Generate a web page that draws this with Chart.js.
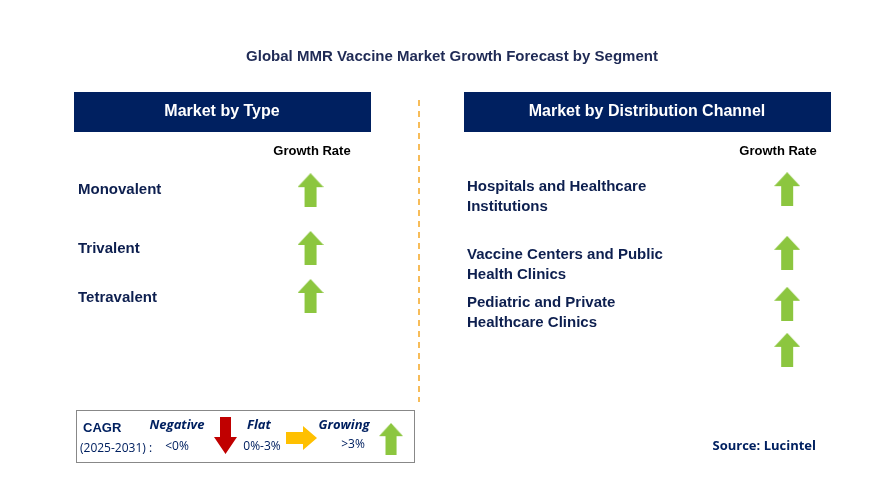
<!DOCTYPE html>
<html><head><meta charset="utf-8">
<script src="https://cdn.jsdelivr.net/npm/chart.js@4"></script>
<style>html,body{margin:0;padding:0;background:#fff}#wrap{width:895px;height:490px}</style>
</head><body><div id="wrap"><canvas id="chart" width="895" height="490"></canvas></div>
<script>
const title = 'Global MMR Vaccine Market Growth Forecast by Segment'
const typeLabels = ['Monovalent', 'Trivalent', 'Tetravalent']
const typeGrowth = ['Growing', 'Growing', 'Growing']
const channelLabels = [['Hospitals and Healthcare', 'Institutions'], ['Vaccine Centers and Public', 'Health Clinics'], ['Pediatric and Private', 'Healthcare Clinics'], ['']]
const channelGrowth = ['Growing', 'Growing', 'Growing', 'Growing']
const typeRows = [189, 248, 297]
const channelRows = [188, 253, 305, 352]

const NAVY = '#002060'
const GREEN = '#8cc63f'

function arrowImg(dir, color) {
  const c = document.createElement('canvas')
  c.width = 26; c.height = 34
  const g = c.getContext('2d')
  g.fillStyle = color
  g.beginPath()
  if (dir === 'up') {
    g.moveTo(13, 0); g.lineTo(26, 14); g.lineTo(19, 14); g.lineTo(19, 34)
    g.lineTo(7, 34); g.lineTo(7, 14); g.lineTo(0, 14)
  }
  g.closePath(); g.fill()
  return c
}
const up = arrowImg('up', GREEN)

const decor = {
  id: 'decor',
  afterDraw(chart) {
    const ctx = chart.ctx
    ctx.save()
    ctx.textBaseline = 'middle'
    ctx.fillStyle = '#1f2a55'
    ctx.font = 'bold 15px Arial, "Liberation Sans"'
    ctx.textAlign = 'center'
    ctx.fillText(title, 452, 57)

    ctx.fillStyle = NAVY
    ctx.fillRect(74, 92, 297, 40)
    ctx.fillRect(464, 92, 367, 40)
    ctx.fillStyle = '#fff'
    ctx.font = 'bold 16px Arial, "Liberation Sans"'
    ctx.fillText('Market by Type', 222, 112)
    ctx.fillText('Market by Distribution Channel', 647, 112)

    ctx.fillStyle = '#000'
    ctx.font = 'bold 13px Arial, "Liberation Sans"'
    ctx.fillText('Growth Rate', 312, 151)
    ctx.fillText('Growth Rate', 778, 151)

    ctx.strokeStyle = '#f5a623'
    ctx.lineWidth = 1.5
    ctx.setLineDash([6, 5])
    ctx.beginPath(); ctx.moveTo(419, 100); ctx.lineTo(419, 402); ctx.stroke()
    ctx.setLineDash([])

    ctx.textAlign = 'left'
    ctx.fillStyle = '#0d1f4f'
    ctx.font = 'bold 15px Arial, "Liberation Sans"'
    typeLabels.forEach((t, i) => ctx.fillText(t, 78, typeRows[i] + 1))
    const first = [187, 255, 303]
    channelLabels.forEach((ls, i) => {
      if (i < 3) ls.forEach((l, j) => ctx.fillText(l, 467, first[i] + j * 20))
    })

    // legend
    ctx.strokeStyle = '#888'
    ctx.lineWidth = 1
    ctx.strokeRect(76.5, 410.5, 338, 52)
    ctx.fillStyle = NAVY
    ctx.font = 'bold 13px Arial, "Liberation Sans"'
    ctx.fillText('CAGR', 83, 428)
    ctx.font = '12px "Open Sans", Arial'
    ctx.fillText('(2025-2031) :', 80, 449)
    ctx.font = 'bold italic 13px "Open Sans", Arial'
    ctx.textAlign = 'center'
    ctx.fillText('Negative', 177, 425)
    ctx.fillText('Flat', 259, 425)
    ctx.fillText('Growing', 344, 425)
    ctx.font = '12px "Open Sans", Arial'
    ctx.fillText('<0%', 177, 447)
    ctx.fillText('0%-3%', 262, 447)
    ctx.fillText('>3%', 353, 445)
    // legend arrows
    ctx.fillStyle = '#c00000'
    ctx.beginPath()
    ctx.moveTo(220, 417); ctx.lineTo(231, 417); ctx.lineTo(231, 437); ctx.lineTo(237, 437)
    ctx.lineTo(225.5, 454); ctx.lineTo(214, 437); ctx.lineTo(220, 437); ctx.closePath(); ctx.fill()
    ctx.fillStyle = '#ffc000'
    ctx.beginPath()
    ctx.moveTo(286, 432); ctx.lineTo(303, 432); ctx.lineTo(303, 426); ctx.lineTo(317, 438)
    ctx.lineTo(303, 450); ctx.lineTo(303, 444); ctx.lineTo(286, 444); ctx.closePath(); ctx.fill()
    ctx.drawImage(up, 379, 423, 24, 32)

    ctx.fillStyle = NAVY
    ctx.font = 'bold 13px "Open Sans", Arial'
    ctx.textAlign = 'right'
    ctx.fillText('Source: Lucintel', 816, 446)
    ctx.restore()
  }
}

const toPts = (x, rows, growth) => rows.map((y, i) => ({ x, y, g: growth[i] }))

new Chart(document.getElementById('chart'), {
  type: 'scatter',
  data: {
    datasets: [
      { label: 'Market by Type', data: toPts(309, typeRows, typeGrowth), pointStyle: up },
      { label: 'Market by Distribution Channel', data: toPts(791, channelRows, channelGrowth), pointStyle: up }
    ]
  },
  options: {
    responsive: false,
    animation: false,
    devicePixelRatio: 1,
    layout: { padding: 0 },
    plugins: { legend: { display: false }, tooltip: { enabled: false } },
    scales: {
      x: { display: false, min: 0, max: 895 },
      y: { display: false, min: 0, max: 490, reverse: true }
    }
  },
  plugins: [decor]
})
</script>
</body></html>
